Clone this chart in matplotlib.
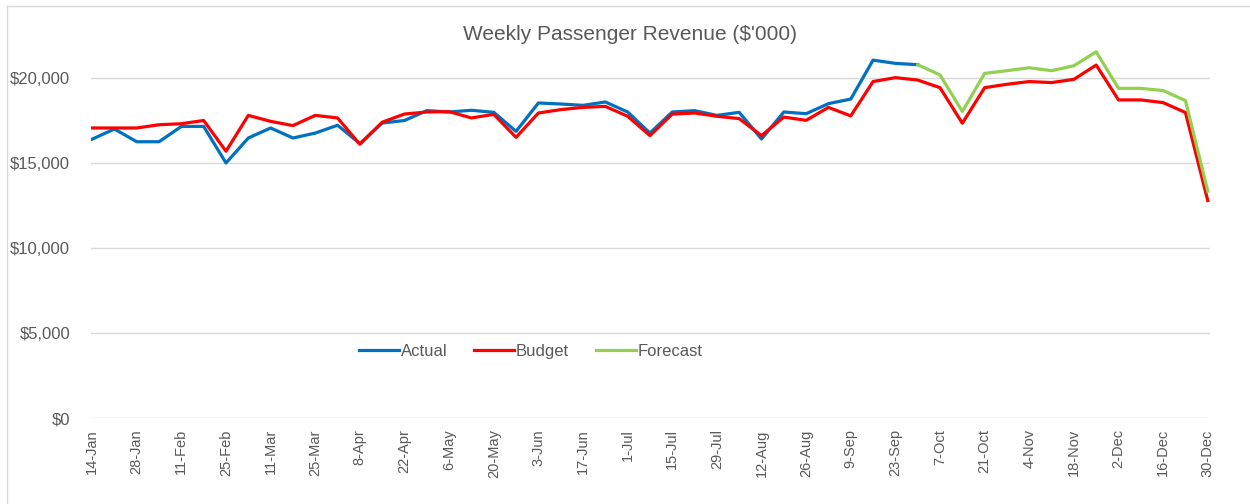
import numpy as np
import matplotlib
matplotlib.use("Agg")
import matplotlib.pyplot as plt
from matplotlib.lines import Line2D
from matplotlib.ticker import FuncFormatter

# weekly dates, 14-Jan .. 30-Dec (51 weeks)
WEEKS = [
    "14-Jan", "21-Jan", "28-Jan", "4-Feb", "11-Feb", "18-Feb", "25-Feb", "4-Mar",
    "11-Mar", "18-Mar", "25-Mar", "1-Apr", "8-Apr", "15-Apr", "22-Apr", "29-Apr",
    "6-May", "13-May", "20-May", "27-May", "3-Jun", "10-Jun", "17-Jun", "24-Jun",
    "1-Jul", "8-Jul", "15-Jul", "22-Jul", "29-Jul", "5-Aug", "12-Aug", "19-Aug",
    "26-Aug", "2-Sep", "9-Sep", "16-Sep", "23-Sep", "30-Sep", "7-Oct", "14-Oct",
    "21-Oct", "28-Oct", "4-Nov", "11-Nov", "18-Nov", "25-Nov", "2-Dec", "9-Dec",
    "16-Dec", "23-Dec", "30-Dec",
]

# actual revenue up to 30-Sep
ACTUAL = [
    16400, 17000, 16250, 16250, 17150, 17150, 15000, 16470, 17060, 16470,
    16760, 17220, 16140, 17350, 17500, 18080, 18000, 18100, 17980, 16860,
    18530, 18470, 18390, 18590, 18000, 16760, 18000, 18080, 17800, 17980,
    16410, 18000, 17900, 18490, 18760, 21050, 20860, 20780,
]

BUDGET = [
    17060, 17060, 17060, 17250, 17310, 17500, 15690, 17800, 17450, 17200,
    17800, 17650, 16100, 17400, 17880, 18000, 18020, 17650, 17860, 16510,
    17940, 18140, 18270, 18330, 17750, 16610, 17880, 17940, 17750, 17610,
    16610, 17700, 17510, 18270, 17770, 19790, 20020, 19880, 19430, 17340,
    19430, 19630, 19790, 19730, 19920, 20760, 18710, 18710, 18550, 17970,
    12790,
]

# forecast from 30-Sep onwards
FORECAST_START = 37
FORECAST = [
    20780, 20180, 18030, 20270, 20430, 20600, 20430, 20720, 21540, 19390,
    19390, 19260, 18670, 13340,
]

BLUE = "#0070C0"
RED = "#FF0000"
GREEN = "#92D050"
GREY_TXT = "#595959"

plt.rcParams["font.family"] = ["Liberation Sans", "DejaVu Sans"]

fig = plt.figure(figsize=(12.5, 5.04), dpi=100)
ax = fig.add_axes([0.0728, 0.1706, 0.8952, 0.759])

x = np.arange(len(WEEKS))
ax.plot(x[:len(ACTUAL)], ACTUAL, color=BLUE, lw=2.3, label="Actual", solid_joinstyle="round")
ax.plot(x, BUDGET, color=RED, lw=2.3, label="Budget", solid_joinstyle="round")
xf = x[FORECAST_START:FORECAST_START + len(FORECAST)]
ax.plot(xf, FORECAST, color=GREEN, lw=2.3, label="Forecast", solid_joinstyle="round")

ax.set_xlim(-0.05, 50.1)
ax.set_ylim(0, 22500)
ax.set_yticks(np.arange(0, 20001, 5000))
ax.yaxis.set_major_formatter(FuncFormatter(lambda v, p: f"${v:,.0f}"))
ax.set_xticks(x[::2])
ax.set_xticklabels(WEEKS[::2], rotation=90)
ax.grid(axis="y", color="#D9D9D9", lw=1)
ax.set_axisbelow(True)
for s in ax.spines.values():
    s.set_visible(False)
ax.tick_params(length=0, colors=GREY_TXT)
ax.tick_params(axis="y", pad=15, labelsize=12)
ax.tick_params(axis="x", pad=8, labelsize=10.5)

fig.text(0.504, 0.932, "Weekly Passenger Revenue ($'000)", ha="center", va="center",
         fontsize=15, color=GREY_TXT)

ax.legend(loc="center", bbox_to_anchor=(0.393, 0.175), ncol=3, frameon=False,
          fontsize=12, labelcolor=GREY_TXT, handlelength=2.4, handletextpad=0.1,
          columnspacing=1.6)

# chart border (left and top edges only visible)
fig.add_artist(Line2D([0.0056, 0.0056], [0, 0.988], color="#D9D9D9", lw=1))
fig.add_artist(Line2D([0.0056, 1.0], [0.988, 0.988], color="#D9D9D9", lw=1))

fig.savefig("out.png", dpi=100)
